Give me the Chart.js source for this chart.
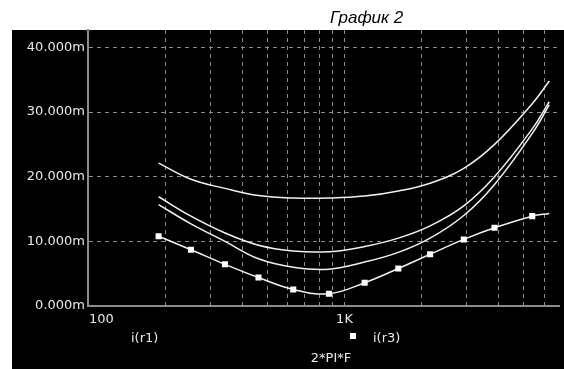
<!DOCTYPE html>
<html>
<head>
<meta charset="utf-8">
<script src="https://cdn.jsdelivr.net/npm/chart.js@4"></script>
<style>
  html, body { margin: 0; padding: 0; background: #fff; }
  #wrap { width: 564px; height: 369px; position: relative; }
</style>
</head>
<body>
<div id="wrap"><canvas id="graph2"></canvas></div>
<script>
// 2*PI*F values (x axis, log) and currents in mA
const omega = [188.5, 252, 342, 462, 631, 870, 1198, 1621, 2156, 2917, 3844, 5392, 6283];
const iR1 = [22.1, 19.6, 18.2, 17.1, 16.7, 16.7, 17.0, 17.8, 19.0, 21.3, 25.0, 31.3, 34.8];
const iR2 = [16.9, 13.9, 11.3, 9.4, 8.5, 8.4, 9.2, 10.5, 12.4, 15.5, 20.0, 27.4, 31.6];
const iR4 = [15.7, 12.7, 10.0, 7.3, 6.0, 5.7, 6.8, 8.3, 10.5, 14.0, 18.8, 26.7, 31.1];
const iR3 = [10.8, 8.7, 6.45, 4.4, 2.55, 1.9, 3.6, 5.8, 8.0, 10.3, 12.1, 13.9, 14.3];
const iR3Marked = [1, 1, 1, 1, 1, 1, 1, 1, 1, 1, 1, 1, 0];

const xGridTicks = [100, 200, 300, 400, 500, 600, 700, 800, 900, 1000, 2000, 3000, 4000, 5000, 6000];
const xLabels = { 100: "100", 1000: "1K" };
const yTicks = [0, 10, 20, 30, 40];

const textColor = "#e8e8e8";
const gridColor = "#8c8c8c";
const labelFont = '13px "DejaVu Sans"';

function toPoints(values) {
  return omega.map((w, i) => ({ x: w, y: values[i] }));
}

function curve(label, values) {
  return {
    label: label,
    data: toPoints(values),
    borderColor: "#f2f2f2",
    borderWidth: 1.5,
    pointRadius: 0,
    tension: 0.4,
  };
}

const backdrop = {
  id: "backdrop",
  beforeDraw(chart) {
    const ctx = chart.ctx;
    ctx.save();
    ctx.fillStyle = "#fff";
    ctx.fillRect(0, 0, chart.width, chart.height);
    ctx.fillStyle = "#000";
    ctx.fillRect(12, 30, chart.width - 12, chart.height - 30);
    ctx.restore();
  },
};

// x tick labels, legend and title
const annotate = {
  id: "annotate",
  afterDraw(chart) {
    const ctx = chart.ctx;
    const xs = chart.scales.x;
    const area = chart.chartArea;
    ctx.save();
    ctx.fillStyle = textColor;
    ctx.font = labelFont;
    ctx.textBaseline = "alphabetic";
    Object.keys(xLabels).forEach((v) => {
      const px = xs.getPixelForValue(Number(v));
      ctx.textAlign = Number(v) === xs.min ? "left" : "center";
      ctx.fillText(xLabels[v], px + (Number(v) === xs.min ? 1 : 0), area.bottom + 17);
    });

    ctx.textAlign = "left";
    const ds = chart.data.datasets;
    ctx.fillText(ds[0].label, 131, area.bottom + 36);
    ctx.fillStyle = "#fff";
    ctx.fillRect(350, area.bottom + 27, 6, 6);
    ctx.fillStyle = textColor;
    ctx.fillText(ds[3].label, 373, area.bottom + 36);

    ctx.textAlign = "center";
    ctx.fillText("2*PI*F", 331, area.bottom + 56);

    ctx.fillStyle = "#000";
    ctx.textAlign = "left";
    ctx.font = 'italic 17px "Liberation Sans"';
    ctx.fillText("График 2", 330, 23);
    ctx.restore();
  },
};

function drawGraph() {
  const ctx = document.getElementById("graph2").getContext("2d");
  const markerSizes = iR3Marked.map((m) => (m ? 4.3 : 0));
  const marked = curve("i(r3)", iR3);
  marked.pointStyle = "rect";
  marked.pointRadius = markerSizes;
  marked.pointBackgroundColor = "#fff";
  marked.pointBorderColor = "#fff";
  marked.pointBorderWidth = 0;

  new Chart(ctx, {
    type: "line",
    data: {
      datasets: [curve("i(r1)", iR1), curve("i(r2)", iR2), curve("i(r4)", iR4), marked],
    },
    options: {
      responsive: true,
      maintainAspectRatio: false,
      animation: false,
      layout: { padding: { top: 30, left: 0, right: 0, bottom: 0 } },
      plugins: { legend: { display: false }, tooltip: { enabled: false } },
      scales: {
        x: {
          type: "logarithmic",
          min: 100,
          max: 6900,
          afterBuildTicks: (scale) => {
            scale.ticks = xGridTicks.map((v) => ({ value: v }));
          },
          afterFit: (scale) => {
            scale.height = 63;
          },
          ticks: { display: false },
          grid: { color: gridColor, lineWidth: 1, drawTicks: false },
          border: { color: gridColor, width: 2, dash: [4, 4] },
        },
        y: {
          min: 0,
          max: 42.7,
          afterBuildTicks: (scale) => {
            scale.ticks = yTicks.map((v) => ({ value: v }));
          },
          afterFit: (scale) => {
            scale.width = 88;
          },
          ticks: {
            color: textColor,
            font: { family: "DejaVu Sans", size: 13 },
            padding: 3,
            callback: (v) => v.toFixed(3) + "m",
          },
          grid: { color: gridColor, lineWidth: 1, drawTicks: false },
          border: { color: gridColor, width: 2, dash: [4, 4] },
        },
      },
    },
    plugins: [backdrop, annotate],
  });
}

drawGraph();
</script>
</body>
</html>
